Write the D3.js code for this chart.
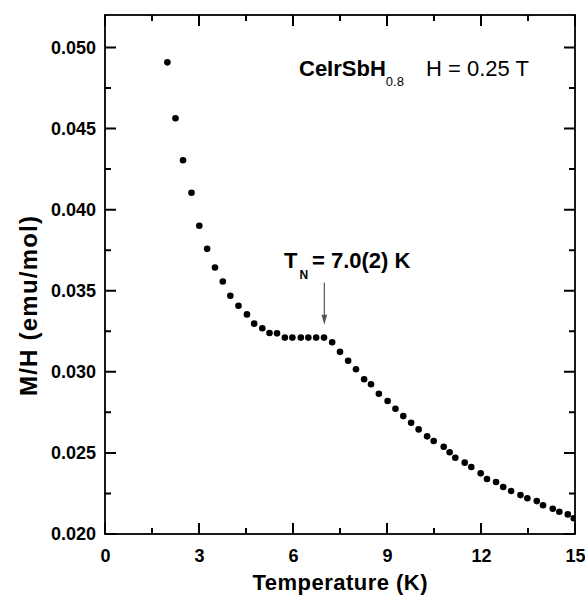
<!DOCTYPE html>
<html>
<head>
<meta charset="utf-8">
<script src="https://cdn.jsdelivr.net/npm/d3@7"></script>
<style>
  body { margin: 0; background: #fff; }
  svg { display: block; font-family: "Liberation Sans", Arial, Helvetica, sans-serif; }
</style>
</head>
<body>
<div id="chart"></div>
<script>
////////////////////////////////////////////////////////////////////////
// Data: M/H vs temperature, CeIrSbH0.8 at 0.25 T

let temperature = [
  1.99, 2.25, 2.49, 2.76, 3.01, 3.26, 3.51, 3.76, 4.00, 4.26,
  4.53, 4.76, 5.02, 5.25, 5.49, 5.74, 5.98, 6.25, 6.49, 6.74,
  6.99, 7.25, 7.50, 7.76, 8.01, 8.27, 8.49, 8.74, 9.02, 9.27,
  9.52, 9.77, 10.01, 10.28, 10.49, 10.81, 11.00, 11.18, 11.48, 11.69,
  11.99, 12.19, 12.48, 12.71, 12.96, 13.26, 13.48, 13.78, 13.98, 14.29,
  14.50, 14.77, 14.96
];

let mh = [
  0.04908, 0.04563, 0.04304, 0.04104, 0.03901, 0.03758, 0.03643, 0.03557, 0.03469, 0.03407,
  0.03354, 0.03297, 0.03269, 0.03239, 0.03237, 0.03211, 0.03211, 0.03211, 0.03211, 0.03211,
  0.03211, 0.03182, 0.03123, 0.03068, 0.03016, 0.02954, 0.02923, 0.02865, 0.02820, 0.02772,
  0.02727, 0.02686, 0.02645, 0.02602, 0.02573, 0.02538, 0.02504, 0.02470, 0.02440, 0.02413,
  0.02374, 0.02339, 0.02321, 0.02290, 0.02265, 0.02240, 0.02220, 0.02203, 0.02177, 0.02156,
  0.02137, 0.02121, 0.02097
];

let xMajorTicks = [0, 3, 6, 9, 12, 15];
let xMinorTicks = [1.5, 4.5, 7.5, 10.5, 13.5];
let yMajorTicks = [0.020, 0.025, 0.030, 0.035, 0.040, 0.045, 0.050];
let yMinorTicks = [0.0225, 0.0275, 0.0325, 0.0375, 0.0425, 0.0475];

// Neel temperature arrow (in data units)
let arrowT = 7.0;
let arrowFrom = 0.0355;
let arrowTo = 0.0329;

////////////////////////////////////////////////////////////////////////
// Layout and scales

let svgWidth = 585, svgHeight = 596;
let plotLeft = 105, plotRight = 575, plotTop = 15, plotBottom = 534;
let majorLen = 11, minorLen = 6;

let xScale = d3.scaleLinear().domain([0, 15]).range([plotLeft, plotRight]);
let yScale = d3.scaleLinear().domain([0.020, 0.052]).range([plotBottom, plotTop]);

let svg = d3.select("#chart").append("svg")
  .attr("width", svgWidth)
  .attr("height", svgHeight);

svg.append("defs").append("clipPath").attr("id", "plot-clip")
  .append("rect")
  .attr("x", plotLeft).attr("y", plotTop)
  .attr("width", plotRight - plotLeft).attr("height", plotBottom - plotTop);

// Tick labels come from d3 axes; the tick marks themselves are drawn below
function labelAxis(axis, tx, ty) {
  let g = svg.append("g")
    .attr("transform", "translate(" + tx + "," + ty + ")")
    .call(axis);
  g.select(".domain").remove();
  g.selectAll(".tick line").remove();
  g.selectAll(".tick text")
    .attr("fill", "#000")
    .style("font-family", "'Liberation Sans', Arial, sans-serif")
    .style("font-size", "18px")
    .style("font-weight", "bold");
  return g;
}

labelAxis(d3.axisBottom(xScale).tickValues(xMajorTicks).tickSize(0).tickPadding(15)
  .tickFormat(d3.format("d")), 0, plotBottom);
labelAxis(d3.axisLeft(yScale).tickValues(yMajorTicks).tickSize(0).tickPadding(9)
  .tickFormat(d3.format(".3f")), plotLeft, 0);

// inward ticks on all four sides, collected as segments
let tickLines = [];
function addXTicks(values, len) {
  values.forEach(v => {
    tickLines.push([[xScale(v), plotBottom], [xScale(v), plotBottom - len]]);
    tickLines.push([[xScale(v), plotTop], [xScale(v), plotTop + len]]);
  });
}
function addYTicks(values, len) {
  values.forEach(v => {
    tickLines.push([[plotLeft, yScale(v)], [plotLeft + len, yScale(v)]]);
    tickLines.push([[plotRight, yScale(v)], [plotRight - len, yScale(v)]]);
  });
}
addXTicks(xMajorTicks, majorLen);
addXTicks(xMinorTicks, minorLen);
addYTicks(yMajorTicks, majorLen);
addYTicks(yMinorTicks, minorLen);

svg.append("path")
  .attr("d", tickLines.map(s => "M" + s[0][0] + "," + s[0][1] + "L" + s[1][0] + "," + s[1][1]).join(""))
  .attr("fill", "none")
  .attr("stroke", "#000")
  .attr("stroke-width", 2);

// frame
svg.append("rect")
  .attr("x", plotLeft).attr("y", plotTop)
  .attr("width", plotRight - plotLeft).attr("height", plotBottom - plotTop)
  .attr("fill", "none")
  .attr("stroke", "#000")
  .attr("stroke-width", 1.8);

////////////////////////////////////////////////////////////////////////
// Data points

svg.append("g")
  .attr("clip-path", "url(#plot-clip)")
  .selectAll("circle")
  .data(d3.zip(temperature, mh))
  .enter()
  .append("circle")
  .attr("cx", d => xScale(d[0]))
  .attr("cy", d => yScale(d[1]))
  .attr("r", 3.3)
  .attr("fill", "#000");

////////////////////////////////////////////////////////////////////////
// Axis titles

svg.append("text")
  .attr("x", (plotLeft + plotRight) / 2)
  .attr("y", 590)
  .attr("text-anchor", "middle")
  .style("font-size", "22px")
  .style("font-weight", "bold")
  .attr("textLength", 175)
  .text("Temperature (K)");

svg.append("text")
  .attr("transform", "translate(37,306) rotate(-90)")
  .attr("text-anchor", "middle")
  .style("font-size", "24px")
  .style("font-weight", "bold")
  .attr("textLength", 180)
  .text("M/H (emu/mol)");

////////////////////////////////////////////////////////////////////////
// Annotations

let compound = svg.append("text")
  .attr("x", 299)
  .attr("y", 76)
  .style("font-size", "22px");
compound.append("tspan").style("font-weight", "bold").text("CeIrSbH");
compound.append("tspan").attr("dy", 10).style("font-size", "13px").text("0.8");
compound.append("tspan").attr("x", 426).attr("y", 76).text("H = 0.25 T");

let tn = svg.append("text")
  .attr("x", 284)
  .attr("y", 268)
  .style("font-size", "22px")
  .style("font-weight", "bold");
tn.append("tspan").text("T");
tn.append("tspan").attr("dx", 2).attr("dy", 11).style("font-size", "12px").text("N");
tn.append("tspan").attr("x", 312).attr("y", 268).text("= 7.0(2) K");

// arrow marking T_N
svg.append("line")
  .attr("x1", xScale(arrowT)).attr("x2", xScale(arrowT))
  .attr("y1", yScale(arrowFrom)).attr("y2", yScale(arrowTo) - 8)
  .attr("stroke", "#555").attr("stroke-width", 1.2);
svg.append("path")
  .attr("d", d3.line()([
    [xScale(arrowT) - 2.8, yScale(arrowTo) - 10],
    [xScale(arrowT) + 2.8, yScale(arrowTo) - 10],
    [xScale(arrowT), yScale(arrowTo)]
  ]) + "Z")
  .attr("fill", "#555");
</script>
</body>
</html>
